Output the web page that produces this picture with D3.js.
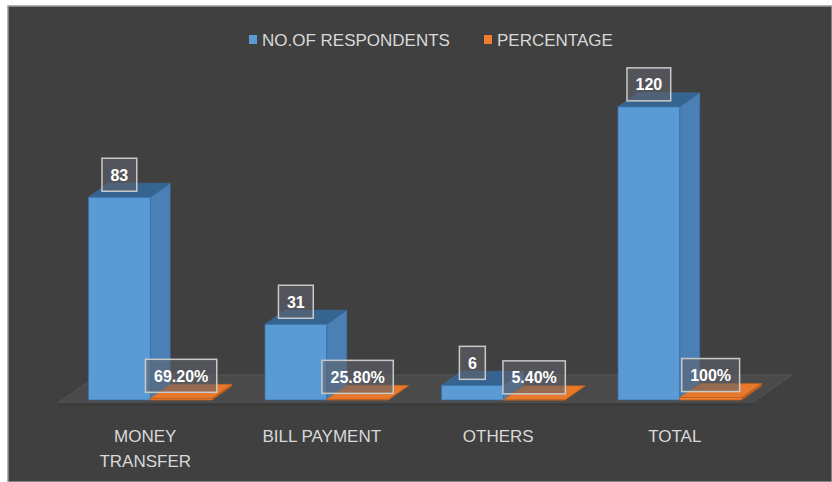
<!DOCTYPE html>
<html>
<head>
<meta charset="utf-8">
<script src="https://cdn.jsdelivr.net/npm/d3@7"></script>
<style>
  html, body { margin: 0; padding: 0; background: #ffffff; }
  svg { display: block; }
</style>
</head>
<body>
<svg id="chart" width="832" height="482"></svg>
<script>
// Usage of mobile payment services
const categories = ["MONEY TRANSFER", "BILL PAYMENT", "OTHERS", "TOTAL"];
const respondents = [83, 31, 6, 120];
const percentage = [0.692, 0.258, 0.054, 1.0];
const seriesNames = ["NO.OF RESPONDENTS", "PERCENTAGE"];

const W = 832, H = 482;
const svg = d3.select("#chart");
const FONT = "'Liberation Sans', Arial, sans-serif";

// chart frame
svg.append("rect").attr("x", 8).attr("y", 6).attr("width", W - 8).attr("height", H - 6)
  .attr("fill", "#404040").attr("stroke", "#9a9a9a").attr("stroke-width", 1.5);

const colors = {
  blue:   { front: "#5b9bd5", side: "#4a80b5", top: "#34648f", edge: "#3a6fa6" },
  orange: { front: "#ed7d31", side: "#b85e22", top: "#e8782b", edge: "#c0611f" }
};

// scales
const x0 = d3.scaleBand().domain(categories).range([62, 768])
  .paddingInner(0.3).paddingOuter(0.15);
const x1 = d3.scaleBand().domain(seriesNames).range([0, x0.bandwidth()]);
const y = d3.scaleLinear().domain([0, 140]).range([400, 58]);

const DX = 20, DY = -14;   // extrusion of each column
const base = y(0);

// floor slab
const fl = x0.range()[0] - 4, fr = x0.range()[1] - 16, fy = base + 3;
svg.append("path")
  .attr("d", `M${fl},${fy} L${fr},${fy} L${fr + 2 * DX},${fy + 2 * DY} L${fl + 2 * DX},${fy + 2 * DY} Z`)
  .attr("fill", "#4a4a4a").attr("stroke", "#545454").attr("stroke-width", 1);
svg.append("path")
  .attr("d", `M${fl},${fy} L${fr},${fy} L${fr},${fy + 3} L${fl},${fy + 3} Z`)
  .attr("fill", "#3b3b3b");

// 3D column
function column(g, x, w, v, c) {
  const yt = y(v);
  g.append("path") // right side
    .attr("d", `M${x + w},${base} L${x + w + DX},${base + DY} L${x + w + DX},${yt + DY} L${x + w},${yt} Z`)
    .attr("fill", c.side).attr("stroke", c.edge).attr("stroke-width", 0.6);
  g.append("path") // top
    .attr("d", `M${x},${yt} L${x + w},${yt} L${x + w + DX},${yt + DY} L${x + DX},${yt + DY} Z`)
    .attr("fill", c.top).attr("stroke", c.edge).attr("stroke-width", 0.6);
  g.append("rect") // front
    .attr("x", x).attr("y", yt).attr("width", w).attr("height", Math.max(0.01, base - yt))
    .attr("fill", c.front).attr("stroke", c.edge).attr("stroke-width", 0.8);
}

const rows = categories.map((c, i) => ({ cat: c, r: respondents[i], p: percentage[i] }));

const barsG = svg.append("g");
rows.forEach(d => {
  const g = barsG.append("g");
  column(g, x0(d.cat) + x1(seriesNames[0]), x1.bandwidth(), d.r, colors.blue);
  column(g, x0(d.cat) + x1(seriesNames[1]), x1.bandwidth(), d.p, colors.orange);
});

// data labels: translucent boxes with a light border
const fmtPct = v => Number.isInteger(v * 100) ? d3.format(".0%")(v) : d3.format(".2%")(v);

function label(cx, v, text) {
  const g = svg.append("g");
  const t = g.append("text").attr("x", cx).attr("y", 0)
    .attr("text-anchor", "middle").attr("font-family", FONT)
    .attr("font-weight", "bold").attr("font-size", 16).attr("fill", "#ffffff").text(text);
  const tw = t.node().getComputedTextLength();
  const bw = tw + 17, bh = 33;
  const bottom = y(v) - 6;
  g.insert("rect", "text").attr("x", cx - bw / 2).attr("y", bottom - bh)
    .attr("width", bw).attr("height", bh)
    .attr("fill", "#60636a").attr("fill-opacity", 0.6)
    .attr("stroke", "#c9c9c9").attr("stroke-width", 1.5);
  t.attr("y", bottom - bh / 2 + 6);
}

rows.forEach(d => {
  label(x0(d.cat) + x1(seriesNames[0]) + x1.bandwidth() / 2, d.r, String(d.r));
  label(x0(d.cat) + x1(seriesNames[1]) + x1.bandwidth() / 2, d.p, fmtPct(d.p));
});

// category axis labels (wrapped)
const axisG = svg.append("g");
rows.forEach(d => {
  const cx = x0(d.cat) + x0.bandwidth() / 2 - 5;
  const t = axisG.append("text").attr("text-anchor", "middle")
    .attr("font-family", FONT).attr("font-size", 17).attr("fill", "#d9d9d9");
  const words = d.cat.split(" ");
  let line = [], lines = [];
  const probe = t.append("tspan");
  words.forEach(w => {
    const test = line.concat(w).join(" ");
    probe.text(test);
    if (probe.node().getComputedTextLength() > 135 && line.length) {
      lines.push(line.join(" "));
      line = [w];
    } else line.push(w);
  });
  lines.push(line.join(" "));
  probe.remove();
  lines.forEach((l, k) => {
    t.append("tspan").attr("x", cx).attr("y", 442 + k * 25).text(l);
  });
});

// legend
const legend = svg.append("g");
const legendItems = [
  { name: seriesNames[0], color: colors.blue.front, x: 249 },
  { name: seriesNames[1], color: colors.orange.front, x: 484 }
];
legendItems.forEach(it => {
  legend.append("rect").attr("x", it.x).attr("y", 35).attr("width", 8).attr("height", 9)
    .attr("fill", it.color);
  legend.append("text").attr("x", it.x + 13).attr("y", 46)
    .attr("font-family", FONT).attr("font-size", 17).attr("fill", "#d9d9d9").text(it.name);
});
</script>
</body>
</html>
